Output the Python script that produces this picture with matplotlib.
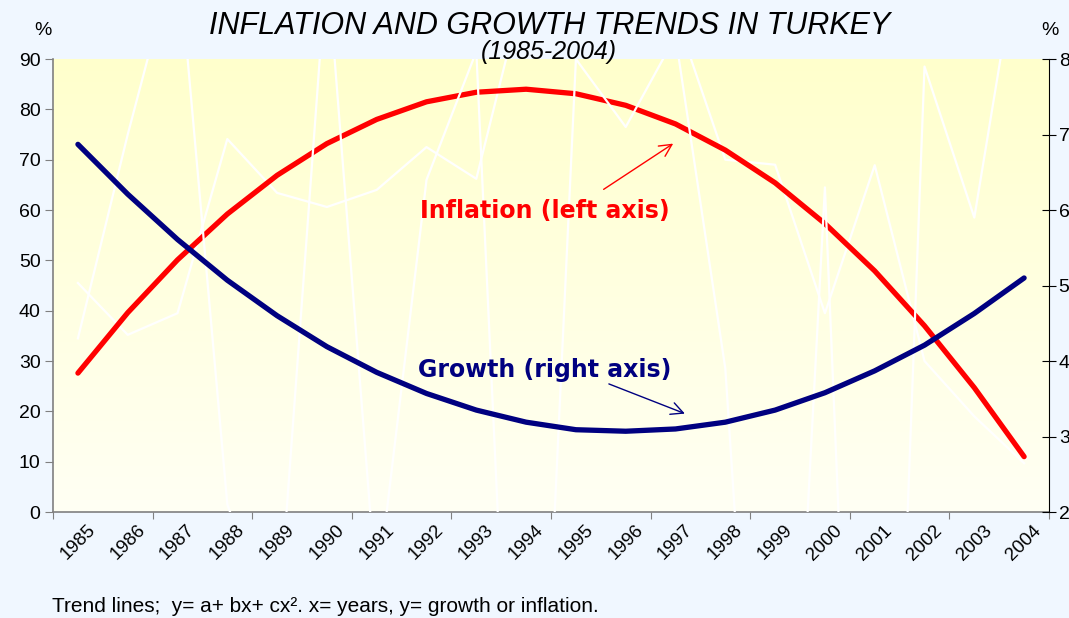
import numpy as np
import matplotlib
matplotlib.use("Agg")
import matplotlib.pyplot as plt
from matplotlib.colors import LinearSegmentedColormap

# data
years = [str(y) for y in range(1985, 2005)]
inflation = [45.5, 35.2, 39.5, 74.1, 63.4, 60.6, 64.0, 72.5, 66.2, 106.0,
             94.0, 92.0, 99.0, 70.0, 69.0, 39.5, 68.9, 30.0, 19.0, 9.7]
growth = [4.3, 7.0, 9.5, 2.1, 0.3, 9.3, 0.9, 6.4, 8.1, -6.1,
          8.0, 7.1, 8.3, 3.9, -6.1, 6.3, -9.5, 7.9, 5.9, 9.9]
inflation_trend = [27.6, 39.6, 50.1, 59.2, 66.9, 73.2, 78.0, 81.5, 83.4, 84.0,
                   83.1, 80.8, 77.1, 71.9, 65.4, 57.3, 47.9, 37.0, 24.7, 11.0]
growth_trend = [6.87, 6.21, 5.61, 5.07, 4.60, 4.19, 3.85, 3.57, 3.35, 3.19,
                3.09, 3.07, 3.10, 3.19, 3.35, 3.58, 3.87, 4.21, 4.63, 5.10]

BG = "#F0F7FF"
FONT = ["Liberation Sans", "DejaVu Sans"]
plt.rcParams["font.family"] = FONT

fig = plt.figure(figsize=(10.69, 6.18), dpi=100, facecolor=BG)
ax = fig.add_axes([0.0496, 0.1715, 0.9317, 0.733])
ax.set_facecolor("none")

x = np.arange(len(years))

# yellow -> white plot area
grad = np.linspace(0, 1, 256).reshape(-1, 1)
cmap = LinearSegmentedColormap.from_list("bg", ["#FFFFF4", "#FFFFE0", "#FFFFCC"])
ax.imshow(grad, extent=[-0.5, 19.5, 0, 90], origin="lower", aspect="auto",
          cmap=cmap, zorder=0)

ax.plot(x, inflation, color="white", lw=1.6, zorder=2)
ax.plot(x, inflation_trend, color="#FF0000", lw=3.8, zorder=4,
        solid_capstyle="round")
ax.set_xlim(-0.5, 19.5)
ax.set_ylim(0, 90)

ax2 = ax.twinx()
ax2.plot(x, growth, color="white", lw=1.6, zorder=2)
ax2.plot(x, growth_trend, color="#000080", lw=3.8, zorder=4,
         solid_capstyle="round")
ax2.set_ylim(2, 8)

# axes look
for s in ["top", "right"]:
    ax.spines[s].set_visible(False)
for s in ["top", "left", "bottom"]:
    ax2.spines[s].set_visible(False)
ax.spines["left"].set_color("#808080")
ax.spines["bottom"].set_color("#808080")
ax.spines["left"].set_linewidth(1.2)
ax.spines["bottom"].set_linewidth(1.2)
ax2.spines["right"].set_color("black")

ax.set_xticks(np.arange(-0.5, 20, 2))
ax.set_xticklabels([])
ax.set_xticks(x, minor=True)
ax.set_xticklabels(years, minor=True, rotation=45, ha="center", va="top")
ax.tick_params(axis="x", which="major", length=5, color="#808080")
ax.tick_params(axis="x", which="minor", length=0, pad=7, labelsize=13.5)

ax.set_yticks(range(0, 91, 10))
ax.tick_params(axis="y", length=6, color="#808080", labelsize=14, pad=3)
ax2.set_yticks(range(2, 9))
ax2.tick_params(axis="y", direction="inout", length=10, labelsize=14, pad=2)

# labels and arrows (drawn on the top axes so the white lines stay behind)
ax2.text(9.37, 59.8, "Inflation (left axis)", color="#FF0000", fontsize=17,
         fontweight="bold", family="DejaVu Sans", ha="center", va="center",
         transform=ax.transData, zorder=6)
ax2.annotate("", xy=(12.0, 73.5), xytext=(10.51, 63.8),
             xycoords=ax.transData, textcoords=ax.transData,
             arrowprops=dict(arrowstyle="->", color="#FF0000", lw=1,
                             mutation_scale=22), zorder=6)
ax2.text(9.37, 3.88, "Growth (right axis)", color="#000080", fontsize=17,
         fontweight="bold", family="DejaVu Sans", ha="center", va="center",
         zorder=6)
ax2.annotate("", xy=(12.24, 3.29), xytext=(10.61, 3.71),
             arrowprops=dict(arrowstyle="->", color="#000080", lw=1,
                             mutation_scale=22), zorder=6)

fig.text(0.5145, 0.958, "INFLATION AND GROWTH TRENDS IN TURKEY", fontsize=22,
         style="italic", ha="center", va="center")
fig.text(0.5135, 0.916, "(1985-2004)", fontsize=18, style="italic",
         ha="center", va="center")
fig.text(0.040, 0.951, "%", fontsize=14, ha="center", va="center")
fig.text(0.982, 0.951, "%", fontsize=14, ha="center", va="center")
fig.text(0.049, 0.0194,
         "Trend lines;  y= a+ bx+ cx\u00b2. x= years, y= growth or inflation.",
         fontsize=15, ha="left", va="center")

fig.savefig("out.png", dpi=100, facecolor=BG)
